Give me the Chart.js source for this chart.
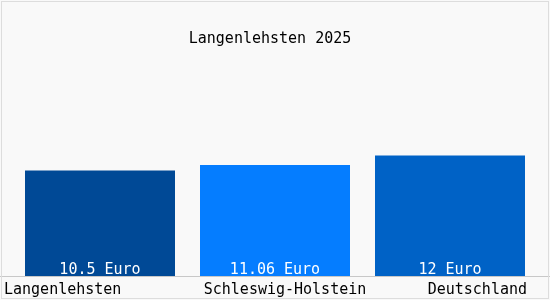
<!DOCTYPE html>
<html>
<head>
<meta charset="utf-8">
<script src="https://cdn.jsdelivr.net/npm/chart.js@4"></script>
<style>
  html, body { margin: 0; padding: 0; background: #ffffff; }
  #wrap { position: relative; width: 550px; height: 300px; background: #f9f9f9; }
  #chart { position: absolute; left: 0; top: 0; }
  #frame {
    position: absolute; left: 1px; top: 1px; right: 1px; bottom: 1px;
    border: 1px solid #dddddd; pointer-events: none;
  }
</style>
</head>
<body>
<div id="wrap">
  <canvas id="chart" width="550" height="300"></canvas>
  <div id="frame"></div>
</div>
<script>
// Langenlehsten 2025 (mock)

const TITLE = "Langenlehsten 2025";
const categories = ["Langenlehsten", "Schleswig-Holstein", "Deutschland"];
const values = [10.5, 11.06, 12];
const valueLabels = ["10.5 Euro", "11.06 Euro", "12 Euro"];
const barColors = ["#004996", "#057dff", "#0062c6"];

const FONT = "'DejaVu Sans Mono', monospace";

// título, textos dentro das barras, eixo e rótulos das categorias
const labelsPlugin = {
  id: "labels",
  afterDatasetsDraw(chart){
    const ctx = chart.ctx;
    const area = chart.chartArea;
    const meta = chart.getDatasetMeta(0);
    ctx.save();

    // linha do eixo (largura toda)
    ctx.strokeStyle = "#c8c8c8";
    ctx.lineWidth = 1;
    ctx.beginPath();
    ctx.moveTo(0, Math.round(area.bottom) + 0.5);
    ctx.lineTo(chart.width, Math.round(area.bottom) + 0.5);
    ctx.stroke();

    ctx.font = "15px " + FONT;
    ctx.textBaseline = "middle";

    // título
    ctx.fillStyle = "#000000";
    ctx.textAlign = "center";
    ctx.fillText(TITLE, chart.width / 2 - 5, 39);

    meta.data.forEach((bar, i) => {
      // valor
      ctx.fillStyle = "#ffffff";
      ctx.textAlign = "center";
      ctx.fillText(valueLabels[i], bar.x, area.bottom - 6);

      // categoria
      ctx.fillStyle = "#000000";
      const half = bar.width / 2;
      if (i === 0){
        ctx.textAlign = "left";
        ctx.fillText(categories[i], bar.x - half - 21, area.bottom + 14);
      } else if (i === meta.data.length - 1){
        ctx.textAlign = "right";
        ctx.fillText(categories[i], bar.x + half + 2, area.bottom + 14);
      } else {
        ctx.textAlign = "center";
        ctx.fillText(categories[i], bar.x + 10, area.bottom + 14);
      }
    });
    ctx.restore();
  }
};

new Chart(document.getElementById("chart"), {
  type: "bar",
  data: {
    labels: categories,
    datasets: [{
      data: values,
      backgroundColor: barColors,
      borderWidth: 0,
      barPercentage: 150 / 175,
      categoryPercentage: 1
    }]
  },
  options: {
    responsive: false,
    animation: false,
    devicePixelRatio: 1,
    layout: { padding: { left: 12.5, right: 12.5, top: 55, bottom: 24 } },
    plugins: {
      legend: { display: false },
      tooltip: { enabled: false },
      title: { display: false }
    },
    scales: {
      x: { display: false },
      y: { display: false, min: 0, max: 22 }
    }
  },
  plugins: [labelsPlugin]
});
</script>
</body>
</html>
